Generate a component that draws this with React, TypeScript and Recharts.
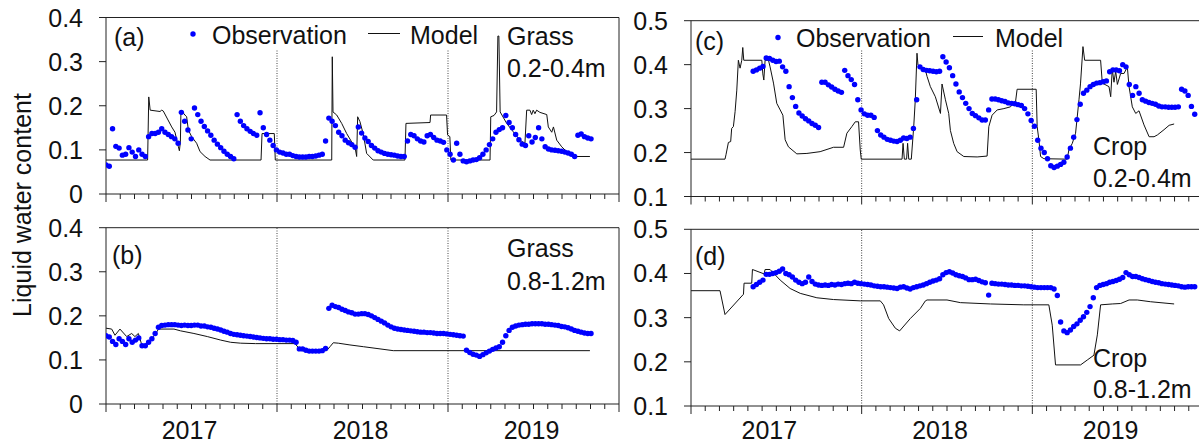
import React from 'react';
import { LineChart, Line, XAxis, YAxis, ReferenceLine } from 'recharts';

const FONT = 'Arial, "Liberation Sans", Helvetica, sans-serif';
const WEEK = 7 / 30.4375; // one week, in months

const yearLabels = ['2017', '2018', '2019'];
const monthTicks = Array.from({ length: 37 }, (_, i) => i);
const grassTicks = [0, 0.1, 0.2, 0.3, 0.4];
const cropTicks = [0.1, 0.2, 0.3, 0.4, 0.5];

// weekly observations, starting 1 Jan 2017
const grassShallowObs = [
  0.066, 0.063, 0.148, 0.108, 0.104, 0.088, 0.09, 0.105, 0.095, 0.085,
  0.1, 0.09, 0.085, 0.13, 0.137, 0.137, 0.14, 0.148, 0.14, 0.135,
  0.13, 0.125, 0.115, 0.185, 0.165, 0.145, 0.125, 0.195, 0.18, 0.165,
  0.153, 0.143, 0.133, 0.122, 0.113, 0.105, 0.097, 0.09, 0.085, 0.08,
  0.18, 0.165, 0.155, 0.148, 0.142, 0.137, 0.133, 0.184, 0.15, 0.135,
  0.122, 0.11, 0.1, 0.095, 0.093, 0.09, 0.09, 0.087, 0.085, 0.084,
  0.084, 0.084, 0.085, 0.085, 0.086, 0.088, 0.09, 0.12, 0.172, 0.165,
  0.155, 0.14, 0.132, 0.122, 0.116, 0.112, 0.106, 0.152, 0.138, 0.127,
  0.119, 0.11, 0.104, 0.098, 0.095, 0.092, 0.09, 0.089, 0.088, 0.086,
  0.085, 0.085, 0.12, 0.135, 0.132, 0.125, 0.12, 0.118, 0.132, 0.135,
  0.128, 0.122, 0.12, 0.117, 0.1, 0.09, 0.077, 0.115, 0.09, 0.075,
  0.073, 0.075, 0.077, 0.078, 0.082, 0.09, 0.1, 0.112, 0.125, 0.14,
  0.146, 0.15, 0.178, 0.162, 0.15, 0.135, 0.123, 0.113, 0.11, 0.132,
  0.118, 0.128, 0.15, 0.125, 0.107, 0.102, 0.1, 0.099, 0.098, 0.097,
  0.095, 0.093, 0.09, 0.085, 0.133, 0.136, 0.13, 0.127, 0.125,
];

const grassDeepObs = [
  0.155, 0.152, 0.142, 0.135, 0.148, 0.142, 0.135, 0.148, 0.14, 0.145,
  0.15, 0.132, 0.132, 0.14, 0.148, 0.16, 0.174, 0.178, 0.179, 0.18,
  0.18, 0.18, 0.179, 0.178, 0.179, 0.178, 0.178, 0.179, 0.179, 0.177,
  0.177, 0.175, 0.174, 0.172, 0.17, 0.168, 0.165, 0.163, 0.16, 0.158,
  0.157, 0.156, 0.155, 0.154, 0.153, 0.152, 0.151, 0.15, 0.149, 0.148,
  0.148, 0.147, 0.147, 0.146, 0.146, 0.145, 0.145, 0.144, 0.14, 0.125,
  0.125, 0.122, 0.12, 0.12, 0.12, 0.12, 0.121, 0.126, 0.217, 0.224,
  0.221, 0.219, 0.215, 0.212, 0.209, 0.207, 0.204, 0.204, 0.205, 0.205,
  0.203, 0.2, 0.196, 0.192, 0.188, 0.184, 0.179, 0.175, 0.172, 0.17,
  0.169, 0.168, 0.167, 0.166, 0.165, 0.164, 0.163, 0.163, 0.162, 0.162,
  0.161, 0.16, 0.16, 0.16, 0.159, 0.158, 0.157, 0.156, 0.155, 0.154,
  0.122, 0.117, 0.113, 0.111, 0.108, 0.112, 0.116, 0.12, 0.124, 0.127,
  0.13, 0.14, 0.155, 0.167, 0.174, 0.177, 0.179, 0.18, 0.181, 0.181,
  0.182, 0.182, 0.182, 0.182, 0.181, 0.181, 0.18, 0.179, 0.178, 0.176,
  0.175, 0.173, 0.17, 0.167, 0.165, 0.163, 0.161, 0.16, 0.16,
];

const cropShallowObs = [
  null, null, null, null, null, null, null, null, null, null,
  null, null, null, null, null, null, null, null, null, 0.385,
  0.388, 0.392, 0.396, 0.415, 0.414, 0.41, 0.407, 0.408, 0.395, 0.385,
  0.35, 0.325, 0.305, 0.29, 0.283, 0.277, 0.272, 0.266, 0.262, 0.257,
  0.36, 0.36, 0.354, 0.349, 0.344, 0.34, 0.337, 0.387, 0.375, 0.366,
  0.355, 0.32, 0.297, 0.288, 0.285, 0.285, 0.28, 0.25, 0.24, 0.235,
  0.23, 0.228, 0.226, 0.225, 0.228, 0.233, 0.232, 0.235, 0.255, 0.32,
  0.395, 0.389, 0.387, 0.386, 0.385, 0.384, 0.385, 0.418, 0.406, 0.393,
  0.375, 0.356, 0.338, 0.325, 0.312, 0.3, 0.289, 0.284, 0.279, 0.274,
  0.274, 0.297, 0.322, 0.322, 0.32, 0.318, 0.316, 0.313, 0.312, 0.311,
  0.309, 0.307, 0.3, 0.288, 0.273, 0.26, 0.228, 0.21, 0.2, 0.186,
  0.17, 0.166, 0.169, 0.173, 0.178, 0.19, 0.21, 0.235, 0.275, 0.31,
  0.335, 0.342, 0.35, 0.355, 0.358, 0.359, 0.361, 0.363, 0.384, 0.388,
  0.388, 0.386, 0.4, 0.395, 0.355, 0.33, 0.35, 0.335, 0.32, 0.317,
  0.314, 0.312, 0.31, 0.306, 0.304, 0.304, 0.303, 0.303, 0.303, 0.304,
  0.344, 0.34, 0.33, 0.305, 0.287,
];

const cropDeepObs = [
  null, null, null, null, null, null, null, null, null, null,
  null, null, null, null, null, null, null, null, null, 0.37,
  0.375, 0.38, 0.385, 0.398, 0.398, 0.4, 0.402, 0.405, 0.41, 0.4,
  0.397, 0.392, 0.385, 0.38, 0.377, 0.38, 0.392, 0.382, 0.376, 0.374,
  0.373, 0.374, 0.373, 0.375, 0.374, 0.376, 0.375, 0.377, 0.378, 0.377,
  0.38, 0.378, 0.377, 0.376, 0.375, 0.374, 0.372, 0.371, 0.37, 0.37,
  0.369, 0.368, 0.367, 0.366, 0.369, 0.37, 0.367, 0.365, 0.368, 0.37,
  0.372, 0.374, 0.377, 0.38, 0.383, 0.385, 0.388, 0.397, 0.402, 0.404,
  0.401, 0.397, 0.395, 0.393, 0.39, 0.386, 0.386, 0.387, 0.384, 0.381,
  0.379, 0.351, 0.378, 0.377, 0.376, 0.376, 0.375, 0.374, 0.374, 0.373,
  0.373, 0.372, 0.372, 0.371, 0.37, 0.369, 0.368, 0.368, 0.368, 0.368,
  0.368, 0.365, 0.35, 0.29, 0.27, 0.266, 0.272, 0.28, 0.286, 0.294,
  0.302, 0.312, 0.325, 0.345, 0.368, 0.373, 0.375, 0.377, 0.38, 0.382,
  0.384, 0.387, 0.391, 0.402, 0.397, 0.393, 0.393, 0.391, 0.388, 0.386,
  0.384, 0.382, 0.38, 0.379, 0.377, 0.376, 0.375, 0.374, 0.373, 0.372,
  0.37, 0.369, 0.37, 0.37, 0.37,
];

// model output: [month since Jan 2017, value]
const grassShallowModel = [
  [0, 0.077], [2.92, 0.077], [3.0, 0.22], [3.1, 0.19], [3.79, 0.187], [3.91, 0.19], [4.02, 0.188],
  [4.61, 0.152], [4.84, 0.14], [5.08, 0.107], [5.15, 0.098], [5.22, 0.118], [5.26, 0.19], [5.54, 0.179],
  [5.66, 0.175], [5.78, 0.145], [6.01, 0.13], [6.36, 0.115], [6.6, 0.096], [6.95, 0.085], [7.3, 0.077],
  [10.88, 0.077], [10.95, 0.137], [11.81, 0.137], [11.88, 0.077], [15.84, 0.077], [15.88, 0.311],
  [15.93, 0.186], [16.19, 0.179], [16.54, 0.16], [16.89, 0.137], [17.24, 0.118], [17.47, 0.107],
  [17.59, 0.085], [17.66, 0.175], [17.82, 0.164], [18.06, 0.135], [18.29, 0.092], [18.75, 0.077],
  [20.98, 0.077], [21.05, 0.16], [22.74, 0.162], [22.78, 0.179], [23.9, 0.179], [23.97, 0.134],
  [24.13, 0.13], [24.2, 0.077], [26.95, 0.077], [27.0, 0.175], [27.23, 0.178], [27.41, 0.186],
  [27.5, 0.358], [27.57, 0.358], [27.66, 0.186], [28.12, 0.16], [28.58, 0.141], [29.05, 0.122],
  [29.4, 0.115], [29.52, 0.19], [29.75, 0.19], [29.87, 0.18], [29.98, 0.19], [30.1, 0.182],
  [30.22, 0.19], [30.45, 0.185], [30.93, 0.18], [31.04, 0.152], [31.28, 0.14], [31.4, 0.152],
  [31.63, 0.122], [31.98, 0.107], [32.33, 0.096], [32.68, 0.088], [32.91, 0.085], [33.96, 0.085],
];

const grassDeepModel = [
  [0, 0.172], [0.4, 0.17], [0.63, 0.156], [0.98, 0.17], [1.45, 0.153], [1.8, 0.16], [2.03, 0.153],
  [2.27, 0.16], [2.57, 0.128], [2.87, 0.138], [3.34, 0.153], [3.69, 0.17], [4.77, 0.17], [5.23, 0.166],
  [6.17, 0.16], [7.11, 0.153], [8.05, 0.145], [8.75, 0.14], [9.45, 0.138], [10.5, 0.137], [13.26, 0.137],
  [13.5, 0.128], [13.73, 0.121], [15.48, 0.121], [15.72, 0.13], [15.95, 0.139], [16.3, 0.138],
  [17.12, 0.134], [18.06, 0.13], [19.23, 0.125], [20.16, 0.121], [33.96, 0.121],
];

const cropShallowModel = [
  [0, 0.185], [2.39, 0.185], [2.46, 0.195], [2.63, 0.223], [2.79, 0.225], [2.86, 0.255], [2.98, 0.259],
  [3.1, 0.293], [3.22, 0.342], [3.33, 0.41], [3.45, 0.392], [3.57, 0.41], [3.64, 0.439], [3.71, 0.41],
  [4.98, 0.41], [5.05, 0.379], [5.12, 0.365], [5.21, 0.41], [5.45, 0.41], [5.56, 0.395], [5.8, 0.358],
  [6.03, 0.312], [6.27, 0.297], [6.46, 0.285], [6.62, 0.229], [6.85, 0.213], [7.44, 0.197], [8.15, 0.198],
  [9.08, 0.202], [10.02, 0.212], [10.73, 0.212], [10.96, 0.244], [11.31, 0.259], [11.55, 0.27],
  [11.78, 0.27], [11.9, 0.206], [11.97, 0.185], [14.84, 0.185], [14.91, 0.221], [15.0, 0.185],
  [15.16, 0.185], [15.23, 0.221], [15.31, 0.185], [15.49, 0.185], [15.66, 0.259], [15.77, 0.32],
  [15.89, 0.426], [15.96, 0.399], [16.48, 0.388], [16.6, 0.373], [16.83, 0.35], [17.18, 0.327],
  [17.54, 0.289], [17.65, 0.356], [17.89, 0.32], [18.12, 0.289], [18.24, 0.25], [18.47, 0.221],
  [18.71, 0.202], [19.18, 0.191], [20.12, 0.19], [20.82, 0.192], [20.94, 0.259], [21.17, 0.285],
  [21.53, 0.297], [22.0, 0.3], [22.46, 0.304], [22.82, 0.316], [22.93, 0.344], [24.27, 0.344],
  [24.34, 0.259], [24.46, 0.229], [24.58, 0.191], [24.81, 0.186], [26.45, 0.185], [26.57, 0.206],
  [26.81, 0.221], [27.04, 0.244], [27.28, 0.32], [27.39, 0.358], [27.56, 0.441], [27.68, 0.41],
  [28.8, 0.41], [28.92, 0.358], [29.39, 0.35], [29.51, 0.327], [29.62, 0.39], [29.74, 0.36],
  [29.86, 0.385], [29.98, 0.355], [30.21, 0.38], [30.45, 0.38], [30.68, 0.395], [30.8, 0.35],
  [31.03, 0.304], [31.27, 0.289], [31.5, 0.295], [31.85, 0.263], [32.21, 0.236], [32.56, 0.236],
  [32.79, 0.24], [33.26, 0.252], [33.62, 0.262], [33.97, 0.265],
];

const cropDeepModel = [
  [0, 0.361], [2.04, 0.361], [2.39, 0.307], [3.69, 0.353], [3.73, 0.378], [4.27, 0.378], [4.32, 0.409],
  [5.14, 0.399], [5.21, 0.409], [5.56, 0.409], [6.27, 0.385], [6.97, 0.366], [7.68, 0.355], [8.85, 0.345],
  [10.02, 0.341], [11.9, 0.338], [13.31, 0.338], [13.54, 0.329], [13.9, 0.298], [14.37, 0.276],
  [14.67, 0.27], [15.42, 0.298], [16.13, 0.321], [16.48, 0.338], [16.6, 0.34], [18.0, 0.34],
  [18.94, 0.334], [21.06, 0.331], [23.4, 0.329], [25.16, 0.329], [25.4, 0.283], [25.63, 0.193],
  [27.39, 0.193], [27.86, 0.204], [28.33, 0.215], [28.57, 0.261], [28.8, 0.329], [29.62, 0.331],
  [30.21, 0.332], [30.8, 0.34], [31.38, 0.34], [32.32, 0.336], [33.97, 0.331],
];

const obsRows = (vals: (number | null)[]) =>
  vals.map((v, i) => ({ m: i * WEEK, v })).filter((d) => d.v !== null);
const modelRows = (pts: number[][]) => pts.map(([m, v]) => ({ m, v }));

const XTick = (props: any) => {
  const { x, y, payload, showYears, shift, yearDy } = props;
  const m = payload.value;
  const major = m % 12 === 0;
  return (
    <g>
      <line x1={x} x2={x} y1={y} y2={y + (major ? 8 : 5)} stroke="#222" strokeWidth={1} />
      {showYears && m % 12 === 6 && (
        <text x={x + shift} y={y + yearDy} textAnchor="middle" fontFamily={FONT} fontSize={25} fill="#111">
          {yearLabels[(m - 6) / 12]}
        </text>
      )}
    </g>
  );
};

const YTick = (props: any) => {
  const { x, y, payload } = props;
  return (
    <g>
      <line x1={x - 7} x2={x} y1={y} y2={y} stroke="#222" strokeWidth={1} />
      <text x={x - 23} y={y} dy="0.36em" textAnchor="end" fontFamily={FONT} fontSize={25} fill="#111">
        {payload.value}
      </text>
    </g>
  );
};

type PanelProps = {
  left: number;
  top: number;
  width: number;
  height: number;
  margin: { top: number; right: number; left: number; bottom: number };
  xHeight: number;
  obs: { m: number; v: number | null }[];
  model: { m: number; v: number }[];
  domain: [number, number];
  ticks: number[];
  showYears: boolean;
  yearShift: number;
  yearDy: number;
  cutY: number;
};

const Panel = ({ left, top, width, height, margin, xHeight, obs, model, domain, ticks, showYears, yearShift, yearDy, cutY }: PanelProps) => (
  <div style={{ position: 'absolute', left, top }}>
    <LineChart width={width} height={height} margin={margin}>
      <XAxis
        dataKey="m"
        type="number"
        domain={[0, 36]}
        ticks={monthTicks}
        interval={0}
        allowDataOverflow
        tickSize={0}
        tickMargin={0}
        tickLine={false}
        axisLine={{ stroke: '#222' }}
        height={xHeight}
        tick={(p: any) => <XTick {...p} showYears={showYears} shift={yearShift} yearDy={yearDy} />}
      />
      <YAxis
        type="number"
        domain={domain}
        ticks={ticks}
        interval={0}
        allowDataOverflow
        width={60}
        tickSize={0}
        tickMargin={0}
        tickLine={false}
        axisLine={{ stroke: '#222' }}
        tick={(p: any) => <YTick {...p} />}
      />
      <ReferenceLine y={domain[1]} stroke="#222" />
      <ReferenceLine x={36} stroke="#222" />
      {[12, 24].map((x) => (
        <ReferenceLine
          key={x}
          segment={[{ x, y: domain[0] }, { x, y: cutY }]}
          stroke="#444"
          strokeDasharray="1 1.5"
        />
      ))}
      <Line data={model} dataKey="v" stroke="#111" strokeWidth={1} dot={false} isAnimationActive={false} />
      <Line
        data={obs}
        dataKey="v"
        stroke="none"
        dot={{ r: 2.7, fill: '#0000ff', stroke: 'none' }}
        isAnimationActive={false}
      />
    </LineChart>
  </div>
);

const txt = { fontFamily: FONT, fontSize: 25, fill: '#111' };

export default function App() {
  return (
    <div style={{ position: 'absolute', left: 0, top: 0, width: 1199, height: 445, overflow: 'hidden', background: '#fff' }}>
      <Panel
        left={0} top={0} width={640} height={215}
        margin={{ top: 17.5, right: 21, left: 46, bottom: 1 }} xHeight={20}
        obs={obsRows(grassShallowObs)} model={modelRows(grassShallowModel)}
        domain={[0, 0.4]} ticks={grassTicks} showYears={false} yearShift={0} yearDy={0} cutY={0.326}
      />
      <Panel
        left={0} top={205} width={640} height={240}
        margin={{ top: 22.7, right: 21, left: 46, bottom: 0 }} xHeight={41}
        obs={obsRows(grassDeepObs)} model={modelRows(grassDeepModel)}
        domain={[0, 0.4]} ticks={grassTicks} showYears yearShift={-2} yearDy={35} cutY={0.4}
      />
      <Panel
        left={600} top={0} width={620} height={218}
        margin={{ top: 20.7, right: 17, left: 31, bottom: 1.5 }} xHeight={20}
        obs={obsRows(cropShallowObs)} model={modelRows(cropShallowModel)}
        domain={[0.1, 0.5]} ticks={cropTicks} showYears={false} yearShift={0} yearDy={0} cutY={0.433}
      />
      <Panel
        left={600} top={205} width={620} height={240}
        margin={{ top: 24.3, right: 17, left: 31, bottom: 0 }} xHeight={39}
        obs={obsRows(cropDeepObs)} model={modelRows(cropDeepModel)}
        domain={[0.1, 0.5]} ticks={cropTicks} showYears yearShift={-7} yearDy={33} cutY={0.5}
      />
      <svg width={1199} height={445} style={{ position: 'absolute', left: 0, top: 0, pointerEvents: 'none' }}>
        <text {...txt} transform="translate(31,205) rotate(-90)" textAnchor="middle">Liquid water content</text>

        <text {...txt} x={114} y={46}>(a)</text>
        <circle cx={193} cy={34} r={2.7} fill="#0000ff" />
        <text {...txt} x={212} y={43.5}>Observation</text>
        <line x1={368} x2={400} y1={33.5} y2={33.5} stroke="#111" strokeWidth={1} />
        <text {...txt} x={410} y={43.5}>Model</text>
        <text {...txt} x={507} y={45}>Grass</text>
        <text {...txt} x={507} y={77}>0.2-0.4m</text>

        <text {...txt} x={112} y={264}>(b)</text>
        <text {...txt} x={507} y={257}>Grass</text>
        <text {...txt} x={507} y={290}>0.8-1.2m</text>

        <text {...txt} x={695} y={50}>(c)</text>
        <circle cx={778} cy={37.5} r={2.7} fill="#0000ff" />
        <text {...txt} x={796} y={46.5}>Observation</text>
        <line x1={953} x2={983} y1={36.5} y2={36.5} stroke="#111" strokeWidth={1} />
        <text {...txt} x={995} y={46.5}>Model</text>
        <text {...txt} x={1093} y={155}>Crop</text>
        <text {...txt} x={1093} y={187}>0.2-0.4m</text>

        <text {...txt} x={695} y={265}>(d)</text>
        <text {...txt} x={1093} y={367}>Crop</text>
        <text {...txt} x={1093} y={398}>0.8-1.2m</text>
      </svg>
    </div>
  );
}
